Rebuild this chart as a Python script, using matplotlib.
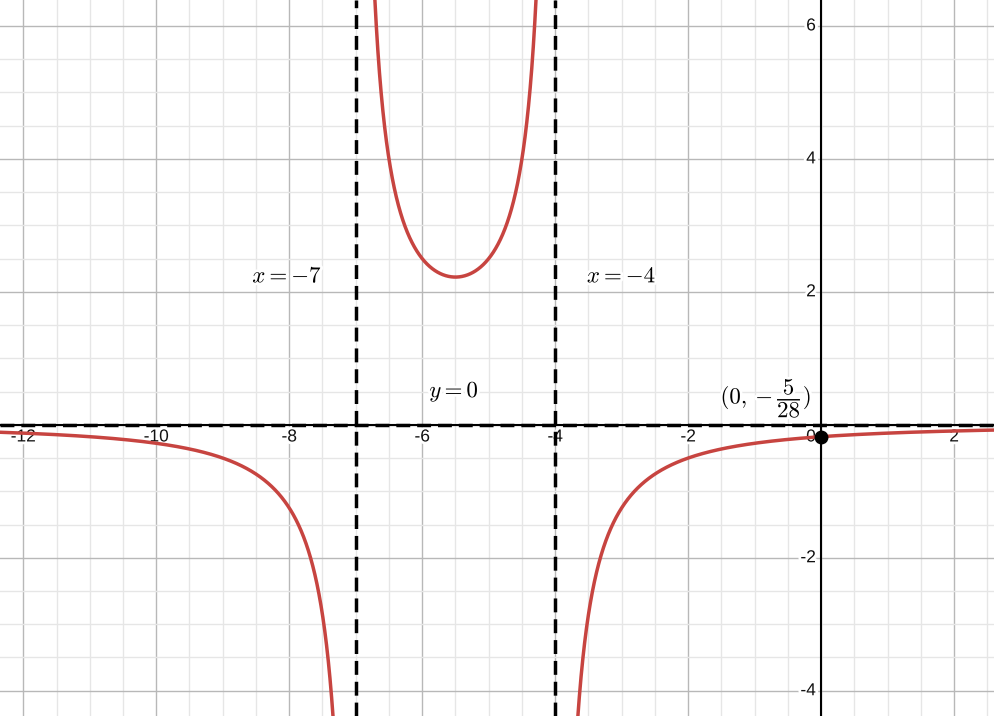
import numpy as np
import matplotlib.pyplot as plt
import matplotlib.patheffects as pe

# rational function f(x) = k / ((x - a)(x - b))
vertical_asymptotes = [-7, -4]
numerator = -5
horizontal_asymptote = 0
intercept = (0, -5 / 28)

x_ticks = [-12, -10, -8, -6, -4, -2, 2]
y_ticks = [-4, -2, 2, 4, 6]

labels = [
    ("$x = -7$", -8.03, 2.24),
    ("$x = -4$", -3.0, 2.24),
    ("$y = 0$", -5.52, 0.50),
    (r"$(0,-\dfrac{5}{28})$", -0.83, 0.40),
]

xlim = (-12.35, 2.60)
ylim = (-4.38, 6.39)

plt.rcParams['mathtext.fontset'] = 'cm'
plt.rcParams['font.family'] = ['Liberation Sans', 'DejaVu Sans']

fig = plt.figure(figsize=(9.94, 7.16), dpi=100)
ax = fig.add_axes([0, 0, 1, 1])
ax.set_xlim(*xlim)
ax.set_ylim(*ylim)
ax.set_axis_off()

# grid
for gx in np.arange(-12.5, 3.0, 0.5):
    major = abs(gx / 2 - round(gx / 2)) < 1e-9
    ax.axvline(gx, color='#b8b8b8' if major else '#e6e6e6', lw=1.0, zorder=0)
for gy in np.arange(-4.5, 6.6, 0.5):
    major = abs(gy / 2 - round(gy / 2)) < 1e-9
    ax.axhline(gy, color='#b8b8b8' if major else '#e6e6e6', lw=1.0, zorder=0)

# axes
ax.axhline(0, color='black', lw=1.5, zorder=1)
ax.axvline(0, color='black', lw=1.5, zorder=1)

halo = [pe.withStroke(linewidth=4, foreground='white')]
for t in x_ticks:
    ax.text(t, -0.07, str(t), ha='center', va='top', fontsize=12.5,
            color='#111111', path_effects=halo, zorder=2)
for t in y_ticks:
    ax.text(-0.08, t, str(t), ha='right', va='center', fontsize=12.5,
            color='#111111', path_effects=halo, zorder=2)
ax.text(-0.08, -0.07, "0", ha='right', va='top', fontsize=12.5,
        color='#111111', path_effects=halo, zorder=2)

# curve
a, b = vertical_asymptotes
edges = [xlim[0], a, b, xlim[1]]
for lo, hi in zip(edges[:-1], edges[1:]):
    xs = np.linspace(lo + 1e-4, hi - 1e-4, 3000)
    ys = numerator / ((xs - a) * (xs - b))
    ys = np.where(np.abs(ys) > 20, np.nan, ys)
    ax.plot(xs, ys, color='#c74440', lw=2.5, zorder=4, solid_capstyle='round')

# asymptotes
for v in vertical_asymptotes:
    ax.axvline(v, color='black', lw=2.5, ls=(0, (4, 2)), zorder=3)
ax.axhline(horizontal_asymptote, color='black', lw=2.5, ls=(0, (4, 2)), zorder=3)

ax.plot(*intercept, 'o', color='black', ms=9, zorder=5)

for txt, lx, ly in labels:
    ax.text(lx, ly, txt, ha='center', va='center', fontsize=16.5, color='black',
            path_effects=halo, zorder=6)

fig.savefig('out.png', dpi=100)
